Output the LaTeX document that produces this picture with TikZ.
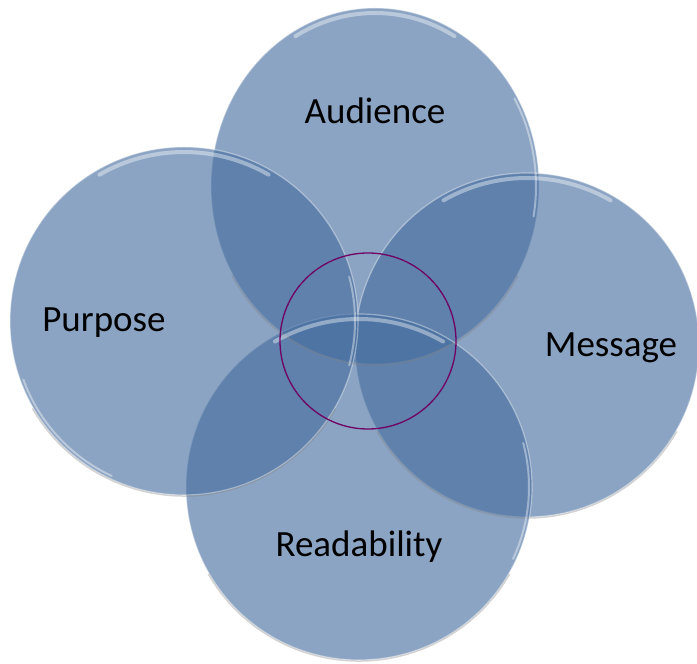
\documentclass[tikz,border=0pt]{standalone}
\usepackage{fontspec}
\setmainfont{Carlito}
\usetikzlibrary{shapes.geometric}
\definecolor{vennblue}{RGB}{68,108,158}
\definecolor{ringpurple}{RGB}{112,0,100}

\begin{document}
\begin{tikzpicture}
        [x=1pt, y=1pt,
        disc/.style={circle, inner sep=0pt, fill=vennblue, fill opacity=0.62, draw=white, draw opacity=0.4, line width=1.2pt},
        oval/.style={ellipse, inner sep=0pt, fill=vennblue, fill opacity=0.62, draw=white, draw opacity=0.4, line width=1.2pt},
        gloss/.style={white, opacity=0.4, line width=4pt, line cap=round},
        rimshade/.style={gray, opacity=0.35, line width=1.5pt},
        ring/.style={circle, inner sep=0pt, draw=ringpurple, line width=1.3pt, minimum size=176pt},
        word/.style={font=\fontsize{37}{44}\selectfont, text=black, anchor=base}]

        \useasboundingbox (0,0) rectangle (697,664);

        % the four sets
        \node[oval, minimum width=328pt, minimum height=356pt] (aud) at (375,478) {};
        \node[disc, minimum size=344pt] (msg) at (527,319) {};
        \node[disc, minimum size=346pt] (read) at (359,177) {};
        \node[disc, minimum size=348pt] (pur) at (184,343) {};

        % shading under the rims
        \draw[rimshade] ([shift={(210:165pt and 179pt)}]aud.center) arc[start angle=210, end angle=330, x radius=165pt, y radius=179pt];
        \draw[rimshade] ([shift={(210:173pt)}]msg.center) arc[start angle=210, end angle=330, radius=173pt];
        \draw[rimshade] ([shift={(210:174pt)}]read.center) arc[start angle=210, end angle=330, radius=174pt];
        \draw[rimshade] ([shift={(210:175pt)}]pur.center) arc[start angle=210, end angle=330, radius=175pt];

        % glossy highlights
        \draw[gloss] ([shift={(60:159pt and 173pt)}]aud.center) arc[start angle=60, end angle=120, x radius=159pt, y radius=173pt];
        \draw[gloss] ([shift={(60:167pt)}]msg.center) arc[start angle=60, end angle=120, radius=167pt];
        \draw[gloss] ([shift={(60:168pt)}]read.center) arc[start angle=60, end angle=120, radius=168pt];
        \draw[gloss] ([shift={(60:169pt)}]pur.center) arc[start angle=60, end angle=120, radius=169pt];
        \draw[gloss, line width=2pt] ([shift={(-15:171pt)}]pur.center) arc[start angle=-15, end angle=15, radius=171pt];
        \draw[gloss, line width=2pt] ([shift={(200:171pt)}]pur.center) arc[start angle=200, end angle=245, radius=171pt];
        \draw[gloss, line width=2pt] ([shift={(-25:170pt)}]read.center) arc[start angle=-25, end angle=15, radius=170pt];
        \draw[gloss, line width=2pt] ([shift={(-10:161pt and 175pt)}]aud.center) arc[start angle=-10, end angle=30, x radius=161pt, y radius=175pt];

        % the centre
        \node[ring] (core) at (368,323) {};

        % labels
        \node[word] (audtext) at (375,540) {Audience};
        \node[word] (purtext) at (104,332) {Purpose};
        \node[word] (msgtext) at (611,307) {Message};
        \node[word] (readtext) at (359,107) {Readability};

\end{tikzpicture}
\end{document}
